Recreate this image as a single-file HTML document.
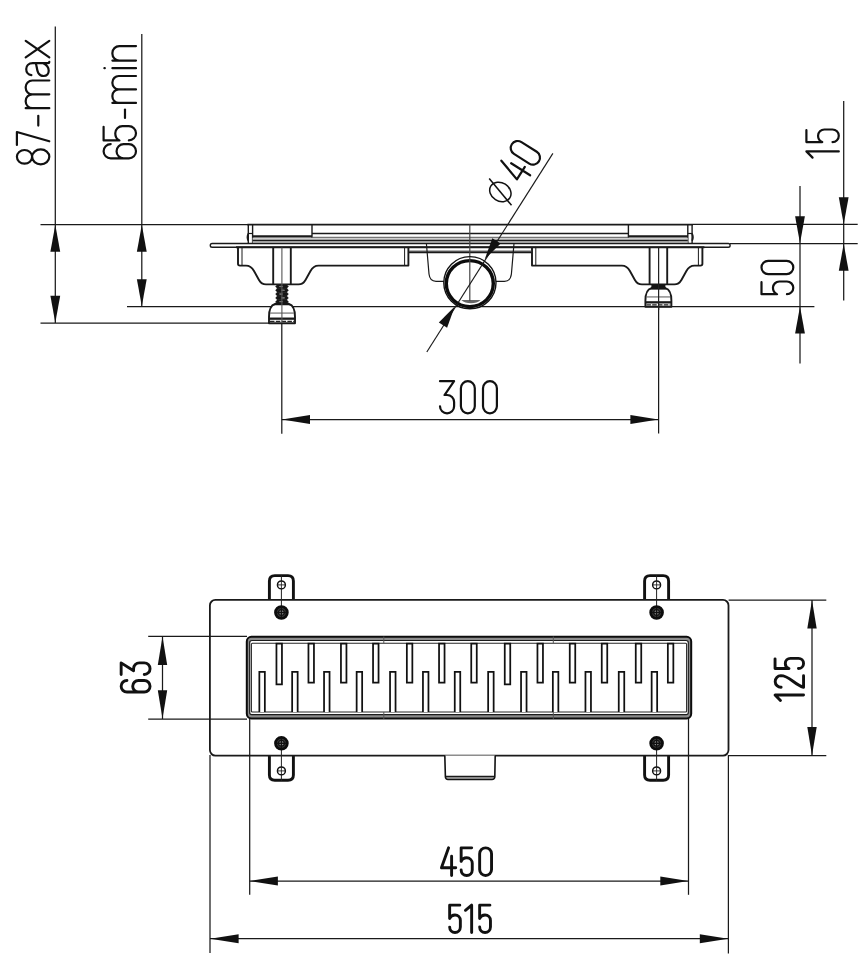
<!DOCTYPE html>
<html><head><meta charset="utf-8"><title>drawing</title>
<style>html,body{margin:0;padding:0;background:#fff;}svg{display:block}</style></head>
<body><svg width="868" height="970" viewBox="0 0 868 970" font-family="Liberation Sans, sans-serif">
<rect width="868" height="970" fill="#fff"/>
<line x1="40.5" y1="224.5" x2="248" y2="224.5" stroke="#1a1a1a" stroke-width="1.25" />
<line x1="693" y1="224.4" x2="857.7" y2="224.4" stroke="#1a1a1a" stroke-width="1.25" />
<line x1="730" y1="243.5" x2="857.7" y2="243.5" stroke="#1a1a1a" stroke-width="1.25" />
<line x1="40.5" y1="323" x2="270" y2="323" stroke="#1a1a1a" stroke-width="1.25" />
<line x1="127" y1="306.5" x2="814.4" y2="306.5" stroke="#1a1a1a" stroke-width="1.25" />
<line x1="55.3" y1="26.5" x2="55.3" y2="323" stroke="#1a1a1a" stroke-width="1.25" />
<line x1="141.8" y1="34" x2="141.8" y2="306.5" stroke="#1a1a1a" stroke-width="1.25" />
<polygon points="55.30,224.80 60.20,251.80 50.40,251.80" fill="#111"/>
<polygon points="55.30,322.70 50.40,295.70 60.20,295.70" fill="#111"/>
<polygon points="141.80,224.80 146.70,251.80 136.90,251.80" fill="#111"/>
<polygon points="141.80,306.20 136.90,279.20 146.70,279.20" fill="#111"/>
<line x1="800" y1="186" x2="800" y2="363.5" stroke="#1a1a1a" stroke-width="1.25" />
<polygon points="800.00,243.20 795.10,216.20 804.90,216.20" fill="#111"/>
<polygon points="800.00,306.60 804.90,333.60 795.10,333.60" fill="#111"/>
<line x1="843.7" y1="101" x2="843.7" y2="300.6" stroke="#1a1a1a" stroke-width="1.25" />
<polygon points="843.70,224.20 838.80,197.20 848.60,197.20" fill="#111"/>
<polygon points="843.70,243.80 848.60,270.80 838.80,270.80" fill="#111"/>
<line x1="281.8" y1="323" x2="281.8" y2="433.8" stroke="#1a1a1a" stroke-width="1.25" />
<line x1="658.6" y1="306.5" x2="658.6" y2="433.5" stroke="#1a1a1a" stroke-width="1.25" />
<line x1="281.8" y1="419.5" x2="658.6" y2="419.5" stroke="#1a1a1a" stroke-width="1.25" />
<polygon points="282.00,419.50 310.00,414.90 310.00,424.10" fill="#111"/>
<polygon points="658.40,419.50 630.40,424.10 630.40,414.90" fill="#111"/>
<line x1="247.4" y1="224.6" x2="693.0" y2="224.6" stroke="#1a1a1a" stroke-width="1.9" />
<line x1="248.3" y1="224.6" x2="248.3" y2="243" stroke="#1a1a1a" stroke-width="1.4" />
<line x1="252.6" y1="224.6" x2="252.6" y2="243" stroke="#1a1a1a" stroke-width="1.4" />
<line x1="687.8" y1="224.6" x2="687.8" y2="243" stroke="#1a1a1a" stroke-width="1.4" />
<line x1="692.1" y1="224.6" x2="692.1" y2="243" stroke="#1a1a1a" stroke-width="1.4" />
<line x1="312" y1="224.6" x2="312" y2="243" stroke="#1a1a1a" stroke-width="1.4" />
<line x1="628.4" y1="224.6" x2="628.4" y2="243" stroke="#1a1a1a" stroke-width="1.4" />
<rect x="252.6" y="237.6" width="435.19999999999993" height="5.6" fill="#cfcfcf"/>
<line x1="252.6" y1="240.5" x2="687.8" y2="240.5" stroke="#1a1a1a" stroke-width="1.3" />
<line x1="252.6" y1="236.4" x2="312" y2="236.4" stroke="#1a1a1a" stroke-width="2.3" />
<line x1="628.4" y1="236.4" x2="687.8" y2="236.4" stroke="#1a1a1a" stroke-width="2.3" />
<line x1="312" y1="233.5" x2="628.4" y2="233.5" stroke="#1a1a1a" stroke-width="1.4" />
<line x1="312" y1="237.3" x2="628.4" y2="237.3" stroke="#555" stroke-width="1.0" />
<line x1="247.9" y1="233.5" x2="252.6" y2="233.5" stroke="#1a1a1a" stroke-width="1.2" />
<line x1="687.8" y1="233.5" x2="692.5" y2="233.5" stroke="#1a1a1a" stroke-width="1.2" />
<path d="M248.3,233.6 q-1.9,3.6 0,7.2" stroke="#1a1a1a" stroke-width="1.5" fill="none" stroke-linejoin="round" stroke-linecap="butt" />
<path d="M692.1,233.6 q1.9,3.6 0,7.2" stroke="#1a1a1a" stroke-width="1.5" fill="none" stroke-linejoin="round" stroke-linecap="butt" />
<rect x="210.3" y="243.5" width="519.8" height="3.7" rx="1.8" fill="#fff" stroke="#1a1a1a" stroke-width="1.4"/>
<line x1="236" y1="247.2" x2="704.4" y2="247.2" stroke="#1a1a1a" stroke-width="2.1" />
<path d="M238,247.4 V263.8 Q238,265.6 240,265.6 H246 Q251,265.6 254,271 L259,280 Q261.5,284.4 266,284.4 H298.5 Q303,284.4 305.5,280 L310.5,271 Q313.5,265.6 318.5,265.6 H408.4 V247.4" stroke="#1a1a1a" stroke-width="1.9" fill="none" stroke-linejoin="round" stroke-linecap="butt" />
<line x1="242" y1="247.4" x2="242" y2="265.6" stroke="#1a1a1a" stroke-width="1.0" />
<line x1="404.6" y1="247.4" x2="404.6" y2="265.6" stroke="#1a1a1a" stroke-width="1.0" />
<line x1="273.2" y1="247.4" x2="273.2" y2="284.4" stroke="#1a1a1a" stroke-width="1.9" />
<line x1="290.8" y1="247.4" x2="290.8" y2="284.4" stroke="#1a1a1a" stroke-width="1.9" />
<path d="M702.4,247.4 V263.8 Q702.4,265.6 700.4,265.6 H694.4 Q689.4,265.6 686.4,271 L681.4,280 Q678.9,284.4 674.4,284.4 H641.9 Q637.4,284.4 634.9,280 L629.9,271 Q626.9,265.6 621.9,265.6 H532.0 V247.4" stroke="#1a1a1a" stroke-width="1.9" fill="none" stroke-linejoin="round" stroke-linecap="butt" />
<line x1="698.4" y1="247.4" x2="698.4" y2="265.6" stroke="#1a1a1a" stroke-width="1.0" />
<line x1="535.8" y1="247.4" x2="535.8" y2="265.6" stroke="#1a1a1a" stroke-width="1.0" />
<line x1="667.2" y1="247.4" x2="667.2" y2="284.4" stroke="#1a1a1a" stroke-width="1.9" />
<line x1="649.5999999999999" y1="247.4" x2="649.5999999999999" y2="284.4" stroke="#1a1a1a" stroke-width="1.9" />
<line x1="409" y1="251.1" x2="531.4" y2="251.1" stroke="#666" stroke-width="1.3" />
<line x1="409" y1="252.4" x2="531.4" y2="252.4" stroke="#1a1a1a" stroke-width="1.6" />
<path d="M426.4,243.5 L429,274 Q429.8,281.3 436,281.3 H446" stroke="#1a1a1a" stroke-width="1.2" fill="none" stroke-linejoin="round" stroke-linecap="butt" />
<path d="M514.0,243.5 L511.4,274 Q510.59999999999997,281.3 504.4,281.3 H494.4" stroke="#1a1a1a" stroke-width="1.2" fill="none" stroke-linejoin="round" stroke-linecap="butt" />
<line x1="469.8" y1="224.6" x2="469.8" y2="308" stroke="#444" stroke-width="1.2" />
<circle cx="469.9" cy="282.7" r="26.1" fill="#fff" stroke="#111" stroke-width="1.4"/>
<ellipse cx="469.79999999999995" cy="283.59999999999997" rx="23.5" ry="23.0" fill="none" stroke="#0c0c0c" stroke-width="3.4"/>
<path d="M461.3,300 H480.6 Q477,303.2 471,303.2 Q465,303.2 461.3,300Z" fill="#666"/>
<line x1="469.8" y1="257" x2="469.8" y2="301" stroke="#444" stroke-width="1.2" />
<line x1="552.9" y1="153.4" x2="426.8" y2="352" stroke="#1a1a1a" stroke-width="1.15" />
<polygon points="484.69,259.40 492.34,238.20 500.61,243.45" fill="#111"/>
<polygon points="454.74,306.59 447.09,327.80 438.81,322.54" fill="#111"/>
<rect x="276.7" y="284.6" width="10.600000000000023" height="19.0" fill="#333"/>
<path d="M275.2,286.5 L277.2,284.8 H286.8 L288.8,286.5 L286.8,288.20000000000005 H277.2Z" fill="#161616"/>
<ellipse cx="281.0" cy="286.5" rx="2.2" ry="0.8" fill="#777"/>
<path d="M275.2,290.3 L277.2,288.6 H286.8 L288.8,290.3 L286.8,292.00000000000006 H277.2Z" fill="#161616"/>
<ellipse cx="283.0" cy="290.3" rx="2.2" ry="0.8" fill="#777"/>
<path d="M275.2,294.1 L277.2,292.40000000000003 H286.8 L288.8,294.1 L286.8,295.80000000000007 H277.2Z" fill="#161616"/>
<ellipse cx="281.0" cy="294.1" rx="2.2" ry="0.8" fill="#777"/>
<path d="M275.2,297.9 L277.2,296.2 H286.8 L288.8,297.9 L286.8,299.6 H277.2Z" fill="#161616"/>
<ellipse cx="283.0" cy="297.9" rx="2.2" ry="0.8" fill="#777"/>
<path d="M275.2,301.7 L277.2,300.0 H286.8 L288.8,301.7 L286.8,303.40000000000003 H277.2Z" fill="#161616"/>
<ellipse cx="281.0" cy="301.7" rx="2.2" ry="0.8" fill="#777"/>
<path d="M275.0,304 C271.0,305 269.0,310.755 269.0,317.124 V323.3 H295.0 V317.124 C295.0,310.755 293.0,305 289.0,304 Z" stroke="#1a1a1a" stroke-width="1.9" fill="#fff" stroke-linejoin="round" stroke-linecap="butt" />
<path d="M273.5,305.2 H290.5 L288.5,302.4 H275.5Z" fill="#151515"/>
<line x1="270.2" y1="313.071" x2="293.8" y2="313.071" stroke="#555" stroke-width="1.0" />
<line x1="269.0" y1="318.668" x2="295.0" y2="318.668" stroke="#1a1a1a" stroke-width="2.3" />
<line x1="270.0" y1="321.40000000000003" x2="294.0" y2="321.40000000000003" stroke="#222" stroke-width="1.1" stroke-dasharray="4.5 1.3"/>
<rect x="651.4" y="284.6" width="14" height="3.6" fill="#151515"/>
<path d="M651.4,288.2 C647.4,289.2 645.4,294.71 645.4,300.848 V306.8 H671.4 V300.848 C671.4,294.71 669.4,289.2 665.4,288.2 Z" stroke="#1a1a1a" stroke-width="1.9" fill="#fff" stroke-linejoin="round" stroke-linecap="butt" />
<path d="M649.9,289.4 H666.9 L664.9,286.59999999999997 H651.9Z" fill="#151515"/>
<line x1="646.6" y1="296.942" x2="670.1999999999999" y2="296.942" stroke="#555" stroke-width="1.0" />
<line x1="645.4" y1="302.336" x2="671.4" y2="302.336" stroke="#1a1a1a" stroke-width="2.3" />
<line x1="646.4" y1="304.90000000000003" x2="670.4" y2="304.90000000000003" stroke="#222" stroke-width="1.1" stroke-dasharray="4.5 1.3"/>
<line x1="281.9" y1="247.4" x2="281.9" y2="323" stroke="#555" stroke-width="1.1" />
<line x1="658.6" y1="247.4" x2="658.6" y2="310" stroke="#222" stroke-width="1.25" />
<g transform="translate(0,414.4)">
<g fill="none" stroke="#111" stroke-width="2.2" stroke-linecap="round" stroke-linejoin="round"><path transform="translate(440.00,-33.20)" d="M0,0 H14.100000000000001 L4.5120000000000005,13.802999999999997 H7.050000000000001 A7.050000000000001,7.050000000000001 0 0 1 14.100000000000001,20.852999999999998 V25.049999999999994 A7.050000000000001,7.050000000000001 0 0 1 0,25.049999999999994"/><path transform="translate(460.90,-33.20)" d="M0,6.950000000000001 A6.950000000000001,6.950000000000001 0 0 1 13.900000000000002,6.950000000000001 V25.14999999999999 A6.950000000000001,6.950000000000001 0 0 1 0,25.14999999999999 Z"/><path transform="translate(483.00,-33.20)" d="M0,6.950000000000001 A6.950000000000001,6.950000000000001 0 0 1 13.900000000000002,6.950000000000001 V25.14999999999999 A6.950000000000001,6.950000000000001 0 0 1 0,25.14999999999999 Z"/></g>
</g>
<g transform="translate(794.4,295.3) rotate(-90)">
<g fill="none" stroke="#111" stroke-width="2.2" stroke-linecap="round" stroke-linejoin="round"><path transform="translate(1.10,-32.90)" d="M12.065,0 H0 V15.582 Q1.5239999999999998,11.448 6.35,11.448 A6.35,6.35 0 0 1 12.7,17.798000000000002 V25.450000000000003 A6.35,6.35 0 0 1 0,25.450000000000003"/><path transform="translate(21.20,-32.90)" d="M0,6.65 A6.65,6.65 0 0 1 13.3,6.65 V25.15 A6.65,6.65 0 0 1 0,25.15 Z"/></g>
</g>
<g transform="translate(839.9,158.7) rotate(-90)">
<g fill="none" stroke="#111" stroke-width="2.2" stroke-linecap="round" stroke-linejoin="round"><path transform="translate(1.10,-33.50)" d="M0,6.156 L6.2,0 V32.4"/><path transform="translate(16.60,-33.50)" d="M11.97,0 H0 V15.876 Q1.512,11.664 6.300000000000001,11.664 A6.300000000000001,6.300000000000001 0 0 1 12.600000000000001,17.964 V26.099999999999998 A6.300000000000001,6.300000000000001 0 0 1 0,26.099999999999998"/></g>
</g>
<g transform="translate(50.4,165.4) rotate(-90)">
<g fill="none" stroke="#111" stroke-width="2.2" stroke-linecap="round" stroke-linejoin="round"><path transform="translate(1.10,-33.50)" d="M0.5960000000000001,7.613999999999999 A6.854000000000001,7.613999999999999 0 1 1 14.304000000000002,7.613999999999999 A6.854000000000001,7.613999999999999 0 1 1 0.5960000000000001,7.613999999999999 Z M0,23.814 A7.450000000000001,8.586 0 1 1 14.900000000000002,23.814 A7.450000000000001,8.586 0 1 1 0,23.814 Z"/><path transform="translate(20.50,-33.50)" d="M0,0 H12.899999999999999 L3.612,32.4"/><path transform="translate(39.80,-33.50)" d="M0,21.384 H9.835999999999999"/><path transform="translate(57.20,-33.50)" d="M0,32.4 V8.799999999999997 M0,15.378749999999997 A6.578749999999999,6.578749999999999 0 0 1 6.578749999999999,8.799999999999997 H7.27125 A6.578749999999999,6.578749999999999 0 0 1 13.85,15.378749999999997 V32.4 M13.85,15.378749999999997 A6.578749999999999,6.578749999999999 0 0 1 20.42875,8.799999999999997 H21.12125 A6.578749999999999,6.578749999999999 0 0 1 27.7,15.378749999999997 V32.4"/><path transform="translate(89.40,-33.50)" d="M0.852,14.463999999999997 C1.42,7.855999999999997 12.78,6.911999999999997 12.78,15.879999999999997 V30.983999999999998 Q12.78,32.4 14.2,32.4 M12.78,18.711999999999996 C10.649999999999999,20.599999999999998 0,18.711999999999996 0,26.735999999999997 C0,33.344 9.656,33.815999999999995 12.78,26.264"/><path transform="translate(108.10,-33.50)" d="M0,8.799999999999997 L16.5,32.4 M16.5,8.799999999999997 L0,32.4"/></g>
</g>
<g transform="translate(137.1,159.4) rotate(-90)">
<g fill="none" stroke="#111" stroke-width="2.2" stroke-linecap="round" stroke-linejoin="round"><path transform="translate(1.10,-33.50)" d="M14.2,7.1 A7.1,7.1 0 0 0 0,7.1 V25.299999999999997 A7.1,7.1 0 0 0 14.2,25.299999999999997 V20.060000000000002 A7.1,7.1 0 0 0 0,20.060000000000002"/><path transform="translate(19.00,-33.50)" d="M13.585,0 H0 V15.876 Q1.716,11.664 7.15,11.664 A7.15,7.15 0 0 1 14.3,18.814 V25.25 A7.15,7.15 0 0 1 0,25.25"/><path transform="translate(41.50,-33.50)" d="M0,21.384 H8.336"/><path transform="translate(56.50,-33.50)" d="M0,32.4 V8.799999999999997 M0,15.188749999999997 A6.38875,6.38875 0 0 1 6.38875,8.799999999999997 H7.061250000000001 A6.38875,6.38875 0 0 1 13.450000000000001,15.188749999999997 V32.4 M13.450000000000001,15.188749999999997 A6.38875,6.38875 0 0 1 19.83875,8.799999999999997 H20.511250000000004 A6.38875,6.38875 0 0 1 26.900000000000002,15.188749999999997 V32.4"/><path transform="translate(91.20,-33.50)" d="M0,32.4 V8.799999999999997 M0,0.8 V1.2"/><path transform="translate(98.80,-33.50)" d="M0,32.4 V8.799999999999997 M0,15.687499999999996 A6.887499999999999,6.887499999999999 0 0 1 6.887499999999999,8.799999999999997 H7.612500000000001 A6.887499999999999,6.887499999999999 0 0 1 14.5,15.687499999999996 V32.4"/></g>
</g>
<g transform="translate(552.9,153.4) rotate(-57.6)">
<g transform="translate(0,-6.4)">
<g fill="none" stroke="#111" stroke-width="2.2" stroke-linecap="round" stroke-linejoin="round"><path transform="translate(-41.20,-33.20)" d="M7.4,0 L0,23.111999999999995 H14.8 M10.508,9.629999999999997 V32.099999999999994"/><path transform="translate(-21.30,-33.20)" d="M0,7.0 A7.0,7.0 0 0 1 14.0,7.0 V25.099999999999994 A7.0,7.0 0 0 1 0,25.099999999999994 Z"/></g>
<ellipse cx="-60.7" cy="-17.3" rx="9.2" ry="11.2" fill="none" stroke="#111" stroke-width="1.5"/>
<line x1="-66.0" y1="-0.6999999999999993" x2="-55.400000000000006" y2="-33.900000000000006" stroke="#111" stroke-width="1.5"/>
</g></g>
<line x1="148.2" y1="636.3" x2="247" y2="636.3" stroke="#1a1a1a" stroke-width="1.25" />
<line x1="148.2" y1="719.0" x2="247" y2="719.0" stroke="#1a1a1a" stroke-width="1.25" />
<line x1="162.5" y1="636.3" x2="162.5" y2="719" stroke="#1a1a1a" stroke-width="1.25" />
<polygon points="162.50,636.60 167.20,665.10 157.80,665.10" fill="#111"/>
<polygon points="162.50,718.70 157.80,690.20 167.20,690.20" fill="#111"/>
<line x1="728.6" y1="600" x2="826.3" y2="600" stroke="#1a1a1a" stroke-width="1.25" />
<line x1="728.6" y1="755.7" x2="826.3" y2="755.7" stroke="#1a1a1a" stroke-width="1.25" />
<line x1="812" y1="600" x2="812" y2="755.7" stroke="#1a1a1a" stroke-width="1.25" />
<polygon points="812.00,600.30 816.70,628.60 807.30,628.60" fill="#111"/>
<polygon points="812.00,755.40 807.30,727.10 816.70,727.10" fill="#111"/>
<line x1="210" y1="755" x2="210" y2="953" stroke="#1a1a1a" stroke-width="1.25" />
<line x1="728.4" y1="755" x2="728.4" y2="953.5" stroke="#1a1a1a" stroke-width="1.25" />
<line x1="249.7" y1="718" x2="249.7" y2="894.8" stroke="#1a1a1a" stroke-width="1.25" />
<line x1="688.5" y1="718" x2="688.5" y2="894.8" stroke="#1a1a1a" stroke-width="1.25" />
<line x1="249.7" y1="881" x2="688.5" y2="881" stroke="#1a1a1a" stroke-width="1.25" />
<line x1="210" y1="938.7" x2="728.4" y2="938.7" stroke="#1a1a1a" stroke-width="1.25" />
<polygon points="249.90,881.00 277.90,876.50 277.90,885.50" fill="#111"/>
<polygon points="688.30,881.00 660.30,885.50 660.30,876.50" fill="#111"/>
<polygon points="210.20,938.70 238.60,934.20 238.60,943.20" fill="#111"/>
<polygon points="728.20,938.70 699.80,943.20 699.80,934.20" fill="#111"/>
<path d="M269.4,600 V581 Q269.4,575.6 274.79999999999995,575.6 H288.0 Q293.4,575.6 293.4,581 V600" fill="#fff" stroke="#111" stroke-width="2.9"/>
<path d="M269.4,755.6 V775 Q269.4,780.2 274.79999999999995,780.2 H288.0 Q293.4,780.2 293.4,775 V755.6" fill="#fff" stroke="#111" stroke-width="2.9"/>
<path d="M644.6,600 V581 Q644.6,575.6 650.0,575.6 H663.2 Q668.6,575.6 668.6,581 V600" fill="#fff" stroke="#111" stroke-width="2.9"/>
<path d="M644.6,755.6 V775 Q644.6,780.2 650.0,780.2 H663.2 Q668.6,780.2 668.6,775 V755.6" fill="#fff" stroke="#111" stroke-width="2.9"/>
<rect x="209.9" y="599.9" width="518.6" height="155.70000000000005" rx="5.5" fill="#fff" stroke="#1a1a1a" stroke-width="1.8"/>
<line x1="209" y1="636.3" x2="247" y2="636.3" stroke="#1a1a1a" stroke-width="1.25" />
<line x1="209" y1="719.0" x2="247" y2="719.0" stroke="#1a1a1a" stroke-width="1.25" />
<line x1="249.7" y1="718" x2="249.7" y2="756" stroke="#1a1a1a" stroke-width="1.25" />
<line x1="688.5" y1="718" x2="688.5" y2="756" stroke="#1a1a1a" stroke-width="1.25" />
<line x1="281.4" y1="575" x2="281.4" y2="613" stroke="#222" stroke-width="1.0" />
<circle cx="281.4" cy="584.9" r="3.95" fill="#fff" stroke="#111" stroke-width="1.5"/>
<line x1="277.5" y1="584.9" x2="285.29999999999995" y2="584.9" stroke="#222" stroke-width="0.9" />
<line x1="281.4" y1="581.0" x2="281.4" y2="588.8" stroke="#222" stroke-width="0.9" />
<circle cx="281.4" cy="612.5" r="5.9" fill="#3a3a3a" stroke="#0c0c0c" stroke-width="2.8"/>
<circle cx="281.4" cy="612.5" r="2.9" fill="#8a8a8a" stroke="#111" stroke-width="1.2"/>
<line x1="276.4" y1="612.5" x2="286.4" y2="612.5" stroke="#111" stroke-width="1.4" />
<line x1="281.4" y1="607.5" x2="281.4" y2="617.5" stroke="#111" stroke-width="1.2" />
<line x1="281.4" y1="743" x2="281.4" y2="781" stroke="#222" stroke-width="1.0" />
<circle cx="281.4" cy="770.9" r="3.95" fill="#fff" stroke="#111" stroke-width="1.5"/>
<line x1="277.5" y1="770.9" x2="285.29999999999995" y2="770.9" stroke="#222" stroke-width="0.9" />
<line x1="281.4" y1="767.0" x2="281.4" y2="774.8" stroke="#222" stroke-width="0.9" />
<circle cx="281.4" cy="743.3" r="5.9" fill="#3a3a3a" stroke="#0c0c0c" stroke-width="2.8"/>
<circle cx="281.4" cy="743.3" r="2.9" fill="#8a8a8a" stroke="#111" stroke-width="1.2"/>
<line x1="276.4" y1="743.3" x2="286.4" y2="743.3" stroke="#111" stroke-width="1.4" />
<line x1="281.4" y1="738.3" x2="281.4" y2="748.3" stroke="#111" stroke-width="1.2" />
<line x1="656.6" y1="575" x2="656.6" y2="613" stroke="#222" stroke-width="1.0" />
<circle cx="656.6" cy="584.9" r="3.95" fill="#fff" stroke="#111" stroke-width="1.5"/>
<line x1="652.7" y1="584.9" x2="660.5" y2="584.9" stroke="#222" stroke-width="0.9" />
<line x1="656.6" y1="581.0" x2="656.6" y2="588.8" stroke="#222" stroke-width="0.9" />
<circle cx="656.6" cy="612.5" r="5.9" fill="#3a3a3a" stroke="#0c0c0c" stroke-width="2.8"/>
<circle cx="656.6" cy="612.5" r="2.9" fill="#8a8a8a" stroke="#111" stroke-width="1.2"/>
<line x1="651.6" y1="612.5" x2="661.6" y2="612.5" stroke="#111" stroke-width="1.4" />
<line x1="656.6" y1="607.5" x2="656.6" y2="617.5" stroke="#111" stroke-width="1.2" />
<line x1="656.6" y1="743" x2="656.6" y2="781" stroke="#222" stroke-width="1.0" />
<circle cx="656.6" cy="770.9" r="3.95" fill="#fff" stroke="#111" stroke-width="1.5"/>
<line x1="652.7" y1="770.9" x2="660.5" y2="770.9" stroke="#222" stroke-width="0.9" />
<line x1="656.6" y1="767.0" x2="656.6" y2="774.8" stroke="#222" stroke-width="0.9" />
<circle cx="656.6" cy="743.3" r="5.9" fill="#3a3a3a" stroke="#0c0c0c" stroke-width="2.8"/>
<circle cx="656.6" cy="743.3" r="2.9" fill="#8a8a8a" stroke="#111" stroke-width="1.2"/>
<line x1="651.6" y1="743.3" x2="661.6" y2="743.3" stroke="#111" stroke-width="1.4" />
<line x1="656.6" y1="738.3" x2="656.6" y2="748.3" stroke="#111" stroke-width="1.2" />
<rect x="246.8" y="636.8" width="444.40000000000003" height="81.60000000000002" rx="4.6" fill="#8c8c8c" stroke="#0c0c0c" stroke-width="2.0"/>
<rect x="249.7" y="640.5" width="438.59999999999997" height="74.20000000000005" rx="2.2" fill="#fff" stroke="#1c1c1c" stroke-width="1.2"/>
<rect x="251.4" y="643.2" width="435.20000000000005" height="68.79999999999995" rx="1.0" fill="none" stroke="#2a2a2a" stroke-width="1.1"/>
<line x1="383.8" y1="636.5" x2="383.8" y2="643" stroke="#555" stroke-width="1.0" />
<line x1="383.8" y1="712" x2="383.8" y2="719" stroke="#555" stroke-width="1.0" />
<line x1="553.3" y1="636.5" x2="553.3" y2="643" stroke="#555" stroke-width="1.0" />
<line x1="553.3" y1="712" x2="553.3" y2="719" stroke="#555" stroke-width="1.0" />
<path d="M276.45,643.6 V684.3 H281.95 V643.6 Z" fill="#fff" stroke="#111" stroke-width="1.75"/>
<path d="M308.45,643.6 V682.6 H313.95 V643.6 Z" fill="#fff" stroke="#111" stroke-width="1.75"/>
<path d="M340.95,643.6 V682.6 H346.45 V643.6 Z" fill="#fff" stroke="#111" stroke-width="1.75"/>
<path d="M373.05,643.6 V682.6 H378.55 V643.6 Z" fill="#fff" stroke="#111" stroke-width="1.75"/>
<path d="M406.85,643.6 V682.6 H412.35 V643.6 Z" fill="#fff" stroke="#111" stroke-width="1.75"/>
<path d="M439.05,643.6 V682.6 H444.55 V643.6 Z" fill="#fff" stroke="#111" stroke-width="1.75"/>
<path d="M471.25,643.6 V682.6 H476.75 V643.6 Z" fill="#fff" stroke="#111" stroke-width="1.75"/>
<path d="M504.75,643.6 V684.3 H510.25 V643.6 Z" fill="#fff" stroke="#111" stroke-width="1.75"/>
<path d="M537.45,643.6 V682.6 H542.95 V643.6 Z" fill="#fff" stroke="#111" stroke-width="1.75"/>
<path d="M569.75,643.6 V682.6 H575.25 V643.6 Z" fill="#fff" stroke="#111" stroke-width="1.75"/>
<path d="M601.75,643.6 V682.6 H607.25 V643.6 Z" fill="#fff" stroke="#111" stroke-width="1.75"/>
<path d="M635.75,643.6 V682.6 H641.25 V643.6 Z" fill="#fff" stroke="#111" stroke-width="1.75"/>
<path d="M667.85,643.6 V682.6 H673.35 V643.6 Z" fill="#fff" stroke="#111" stroke-width="1.75"/>
<path d="M259.35,712 V671.8 H264.85 V712" fill="#fff" stroke="#111" stroke-width="1.75"/>
<path d="M292.15,712 V671.8 H297.65 V712" fill="#fff" stroke="#111" stroke-width="1.75"/>
<path d="M324.05,712 V671.8 H329.55 V712" fill="#fff" stroke="#111" stroke-width="1.75"/>
<path d="M356.65,712 V671.8 H362.15 V712" fill="#fff" stroke="#111" stroke-width="1.75"/>
<path d="M390.05,712 V671.8 H395.55 V712" fill="#fff" stroke="#111" stroke-width="1.75"/>
<path d="M422.95,712 V671.8 H428.45 V712" fill="#fff" stroke="#111" stroke-width="1.75"/>
<path d="M454.75,712 V671.8 H460.25 V712" fill="#fff" stroke="#111" stroke-width="1.75"/>
<path d="M488.15,712 V671.8 H493.65 V712" fill="#fff" stroke="#111" stroke-width="1.75"/>
<path d="M521.05,712 V671.8 H526.55 V712" fill="#fff" stroke="#111" stroke-width="1.75"/>
<path d="M552.85,712 V671.8 H558.35 V712" fill="#fff" stroke="#111" stroke-width="1.75"/>
<path d="M585.45,712 V671.8 H590.95 V712" fill="#fff" stroke="#111" stroke-width="1.75"/>
<path d="M618.75,712 V671.8 H624.25 V712" fill="#fff" stroke="#111" stroke-width="1.75"/>
<path d="M651.65,712 V671.8 H657.15 V712" fill="#fff" stroke="#111" stroke-width="1.75"/>
<path d="M444.8,755.6 L445.4,777 Q445.6,779.4 448,779.4 H492 Q494.6,779.4 494.8,777 L495.2,755.6" fill="#fff" stroke="#111" stroke-width="1.6"/>
<line x1="446" y1="776.6" x2="494.5" y2="776.6" stroke="#1a1a1a" stroke-width="1.6" />
<g transform="translate(0,877.0)">
<g fill="none" stroke="#111" stroke-width="2.9" stroke-linecap="round" stroke-linejoin="round"><path transform="translate(441.45,-29.15)" d="M7.1499999999999995,0 L0,19.944000000000003 H14.299999999999999 M10.152999999999999,8.31 V27.700000000000003"/><path transform="translate(461.15,-29.15)" d="M10.545,0 H0 V13.573 Q1.3319999999999999,9.972000000000001 5.55,9.972000000000001 A5.55,5.55 0 0 1 11.1,15.522000000000002 V22.150000000000002 A5.55,5.55 0 0 1 0,22.150000000000002"/><path transform="translate(479.65,-29.15)" d="M0,5.95 A5.95,5.95 0 0 1 11.9,5.95 V21.750000000000004 A5.95,5.95 0 0 1 0,21.750000000000004 Z"/></g>
</g>
<g transform="translate(0,933.9)">
<g fill="none" stroke="#111" stroke-width="2.9" stroke-linecap="round" stroke-linejoin="round"><path transform="translate(449.65,-28.75)" d="M10.165,0 H0 V13.377 Q1.2839999999999998,9.828 5.35,9.828 A5.35,5.35 0 0 1 10.7,15.177999999999999 V21.950000000000003 A5.35,5.35 0 0 1 0,21.950000000000003"/><path transform="translate(465.45,-28.75)" d="M0,5.187 L6.199999999999999,0 V27.3"/><path transform="translate(479.65,-28.75)" d="M10.259999999999998,0 H0 V13.377 Q1.2959999999999998,9.828 5.3999999999999995,9.828 A5.3999999999999995,5.3999999999999995 0 0 1 10.799999999999999,15.227999999999998 V21.900000000000002 A5.3999999999999995,5.3999999999999995 0 0 1 0,21.900000000000002"/></g>
</g>
<g transform="translate(151.5,693.5) rotate(-90)">
<g fill="none" stroke="#111" stroke-width="2.9" stroke-linecap="round" stroke-linejoin="round"><path transform="translate(1.45,-30.35)" d="M11.6,5.8 A5.8,5.8 0 0 0 0,5.8 V23.1 A5.8,5.8 0 0 0 11.6,23.1 V17.360000000000003 A5.8,5.8 0 0 0 0,17.360000000000003"/><path transform="translate(19.05,-30.35)" d="M0,0 H11.6 L3.7119999999999997,12.427000000000001 H5.8 A5.8,5.8 0 0 1 11.6,18.227 V23.1 A5.8,5.8 0 0 1 0,23.1"/></g>
</g>
<g transform="translate(805,702) rotate(-90)">
<g fill="none" stroke="#111" stroke-width="2.9" stroke-linecap="round" stroke-linejoin="round"><path transform="translate(1.45,-29.95)" d="M0,5.415 L5.6,0 V28.5"/><path transform="translate(14.75,-29.95)" d="M0,6.09 A5.8,5.8 0 0 1 11.6,5.8 C11.6,14.25 2.552,19.380000000000003 0,28.5 H11.6"/><path transform="translate(33.45,-29.95)" d="M9.69,0 H0 V13.965 Q1.224,10.26 5.1,10.26 A5.1,5.1 0 0 1 10.2,15.36 V23.4 A5.1,5.1 0 0 1 0,23.4"/></g>
</g>
</svg></body></html>
